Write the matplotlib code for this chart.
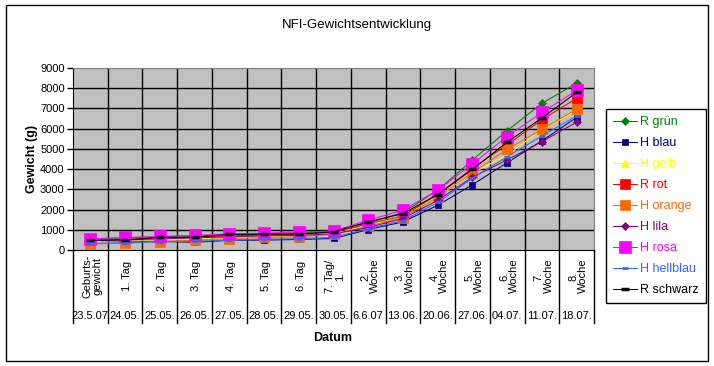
import matplotlib
matplotlib.use("Agg")
import matplotlib.pyplot as plt
from matplotlib.patches import Rectangle
import matplotlib.transforms as mtransforms

plt.rcParams['font.family'] = ['Liberation Sans', 'DejaVu Sans']

# ---- data ----
top_labels = ["Geburts-\ngewicht", "1. Tag", "2. Tag", "3. Tag", "4. Tag", "5. Tag",
              "6. Tag", "7. Tag/\n1.", "2.\nWoche", "3.\nWoche", "4.\nWoche",
              "5.\nWoche", "6.\nWoche", "7.\nWoche", "8.\nWoche"]
date_labels = ["23.5.07", "24.05.", "25.05.", "26.05.", "27.05.", "28.05.", "29.05.",
               "30.05.", "6.6.07", "13.06.", "20.06.", "27.06.", "04.07.", "11.07.", "18.07."]

r_gruen    = [550, 600, 650, 700, 750, 800, 850, 950, 1350, 1850, 2950, 4450, 5900, 7250, 8250]
h_blau     = [450, 450, 430, 380, 480, 490, 520, 570, 1010, 1390, 2210, 3230, 4320, 5400, 6550]
h_gelb     = [420, 480, 500, 560, 620, 650, 700, 800, 1200, 1700, 2650, 3800, 4700, 5950, 6900]
r_rot      = [500, 520, 600, 640, 700, 740, 780, 880, 1300, 1680, 2750, 4050, 5200, 6450, 7500]
h_orange   = [300, 330, 420, 480, 560, 620, 650, 780, 1180, 1600, 2620, 3830, 4980, 5970, 6960]
h_lila     = [480, 500, 550, 600, 650, 700, 720, 800, 1110, 1560, 2460, 3600, 4460, 5360, 6320]
h_rosa     = [550, 620, 670, 720, 800, 830, 900, 930, 1480, 1970, 2950, 4260, 5610, 6800, 7890]
h_hellblau = [330, 360, 400, 430, 480, 530, 560, 620, 1050, 1450, 2350, 3550, 4620, 5640, 6630]
r_schwarz  = [470, 500, 620, 630, 770, 780, 790, 900, 1390, 1800, 2740, 3990, 5330, 6530, 7790]

series_names = ["R grün", "H blau", "H gelb", "R rot", "H orange", "H lila",
                "H rosa", "H hellblau", "R schwarz"]
series_values = [r_gruen, h_blau, h_gelb, r_rot, h_orange, h_lila, h_rosa, h_hellblau, r_schwarz]

# ---- styles ----
styles = [
    dict(color="#008000", marker="D", ms=4.5),
    dict(color="#000080", marker="s", ms=5),
    dict(color="#FFFF00", marker="^", ms=6),
    dict(color="#FF0000", marker="s", ms=7.5),
    dict(color="#FF6600", marker="s", ms=7.5),
    dict(color="#800080", marker="D", ms=4),
    dict(color="#FF00FF", marker="s", ms=9),
    dict(color="#3366FF", marker="_", ms=5, mew=2),
    dict(color="#000000", marker="_", ms=6, mew=2.5),
]

W, H = 714, 366
fig = plt.figure(figsize=(W / 100, H / 100), dpi=100)
fig.patch.set_facecolor("white")

# outer border
fig.patches.append(Rectangle((5.5 / W, 1 - 360.5 / H), (708 - 5.5) / W, (360.5 - 5) / H,
                             transform=fig.transFigure, fill=False, edgecolor="black", lw=1))

ax_l, ax_r, ax_t, ax_b = 73, 594, 68, 250
ax = fig.add_axes([ax_l / W, 1 - ax_b / H, (ax_r - ax_l) / W, (ax_b - ax_t) / H])
ax.set_facecolor("#C0C0C0")

n = len(top_labels)
x = list(range(n))
ax.set_xlim(-0.5, n - 0.5)
ax.set_ylim(0, 9000)

for yv in range(1000, 9000, 1000):
    ax.axhline(yv, color="black", lw=1, zorder=1)
for i in range(n - 1):
    ax.axvline(i + 0.5, color="black", lw=1, zorder=1)

for name, vals, st in zip(series_names, series_values, styles):
    ax.plot(x, vals, color=st["color"], lw=0.75, marker=st["marker"], ms=st["ms"],
            mew=st.get("mew", 0.5), mfc=st["color"], mec=st["color"], label=name, zorder=3)

ax.set_yticks(range(0, 9001, 1000))
ax.set_yticklabels([str(v) for v in range(0, 9001, 1000)], fontsize=8)
ax.tick_params(axis="y", length=4, width=1, color="black", pad=2)
ax.set_xticks([])

for s in ["top", "right"]:
    ax.spines[s].set_color("#808080")
for s in ["left", "bottom"]:
    ax.spines[s].set_color("black")

# multi-level category labels
trans = mtransforms.blended_transform_factory(ax.transData, ax.transAxes)
hpx = ax_b - ax_t
for i in range(n + 1):
    ax.plot([i - 0.5, i - 0.5], [0, -(323 - ax_b) / hpx], color="black", lw=1,
            transform=trans, clip_on=False)
for i, (t, d) in enumerate(zip(top_labels, date_labels)):
    ax.text(i + 0.05, -(276 - ax_b) / hpx, t, rotation=90, ha="center", va="center",
            multialignment="center", fontsize=8, transform=trans, linespacing=1.0)
    ax.text(i, -(316 - ax_b) / hpx, d, ha="center", va="center", fontsize=8, transform=trans)

fig.text(357 / W, 1 - 25 / H, "NFI-Gewichtsentwicklung", ha="center", va="center", fontsize=9.5)
fig.text(32 / W, 1 - 159 / H, "Gewicht (g)", ha="center", va="center", rotation=90,
         fontsize=9, fontweight="bold")
fig.text(333 / W, 1 - 338 / H, "Datum", ha="center", va="center", fontsize=9, fontweight="bold")

leg = fig.legend(loc="upper left", bbox_to_anchor=(606 / W, 1 - 109 / H), fontsize=9,
                 frameon=True, fancybox=False, edgecolor="black", framealpha=1,
                 handlelength=1.9, handletextpad=0.3, labelspacing=0.72,
                 borderpad=0.55, borderaxespad=0)
leg.get_frame().set_linewidth(1)
for txt, st in zip(leg.get_texts(), styles):
    txt.set_color(st["color"])

fig.savefig("out.png", dpi=100)
